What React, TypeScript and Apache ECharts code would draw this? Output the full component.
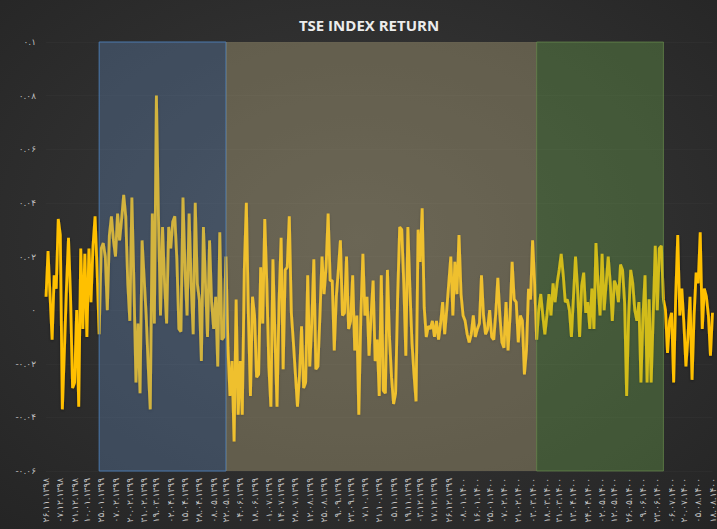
import React, { useEffect, useRef } from "react";
import * as echarts from "echarts";

// Daily returns of the TSE index (left to right)
const returnsPart1 = [
  0.005, 0.022, 0.005, -0.011, 0.013, 0.008, 0.034, 0.028, -0.037, -0.015,
  0.008, 0.027, 0.005, -0.029, -0.027, 0.0, -0.036, 0.023, -0.007, 0.021,
  -0.01, 0.023, 0.003, 0.024, 0.035, 0.015, -0.009, 0.023, 0.025, 0.02,
  0.0, 0.028, 0.035, 0.026, 0.02, 0.036, 0.026, 0.034, 0.043, 0.035,
  0.01, -0.004, 0.042, 0.01, -0.027, -0.005, -0.031, 0.026, 0.012, -0.002,
  -0.021, -0.037, 0.036, -0.005, 0.08, 0.035, -0.002, 0.031, 0.01, -0.005,
  0.031, 0.023, 0.033, 0.035, 0.019, -0.007, -0.008, 0.042, 0.015, -0.002,
  0.036, 0.01, -0.009, 0.04, 0.01, 0.004, -0.019, 0.031, 0.01, -0.01,
];
const returnsPart2 = [
  0.026, 0.003, -0.007, 0.005, -0.021, 0.029, -0.011, -0.01, 0.02, -0.014,
  -0.032, -0.019, -0.049, 0.004, -0.039, -0.019, -0.039, 0.015, 0.04, -0.002,
  -0.032, 0.005, -0.002, -0.025, -0.024, 0.016, -0.005, 0.034, 0.01, -0.021,
  -0.036, 0.019, -0.01, -0.036, 0.003, 0.027, -0.022, 0.015, 0.016, 0.035,
  -0.001, -0.012, -0.024, -0.036, -0.024, -0.006, -0.029, -0.027, 0.013, -0.021,
  -0.005, 0.019, -0.022, -0.021, -0.002, 0.02, 0.006, 0.016, 0.036, 0.011,
  0.011, -0.015, 0.005, 0.015, 0.026, -0.002, -0.001, 0.02, -0.007, -0.004,
  0.013, -0.015, -0.002, -0.039, -0.002, 0.021, -0.002, 0.005, -0.017, -0.002,
];
const returnsPart3 = [
  0.011, -0.019, -0.011, -0.032, 0.013, -0.03, -0.031, 0.015, -0.01, -0.025,
  -0.035, -0.031, 0.005, 0.031, 0.03, 0.01, -0.017, 0.031, 0.008, -0.012,
  -0.024, -0.034, 0.03, 0.018, 0.038, 0.001, -0.01, -0.006, -0.007, -0.004,
  -0.01, -0.004, -0.011, -0.005, 0.003, -0.009, 0.0, 0.01, 0.02, -0.002,
  0.018, 0.006, 0.028, 0.006, -0.002, -0.004, -0.009, -0.012, -0.009, -0.002,
  -0.01, -0.007, -0.005, 0.013, -0.002, -0.009, -0.007, 0.0, -0.01, -0.011,
  -0.001, 0.012, -0.002, -0.012, -0.014, 0.003, -0.015, -0.002, 0.018, 0.004,
  0.003, -0.012, -0.002, -0.004, -0.024, -0.015, 0.008, 0.004, 0.026, 0.01,
  -0.011, 0.0,
];
const returnsPart4 = [
  0.006, -0.002, -0.009, -0.002, 0.006, -0.002, 0.01, 0.003, 0.01, 0.015,
  0.021, 0.013, 0.003, 0.004, 0.0, -0.01, 0.005, 0.02, 0.008, -0.01,
  0.009, 0.014, -0.001, 0.003, -0.007, 0.008, -0.007, 0.025, 0.01, -0.002,
  0.021, 0.0, 0.01, 0.02, 0.01, -0.004, 0.011, 0.009, 0.003, 0.017,
  0.015, 0.003, -0.032, -0.002, 0.015, 0.01, 0.0, -0.004, 0.003, -0.027,
  -0.002, 0.013, -0.027, 0.004, -0.027, -0.002, 0.024, 0.0, 0.023, 0.024,
  0.004, 0.0, -0.016, -0.004, -0.001, -0.027, 0.005, 0.028, -0.002, 0.008,
  -0.005, -0.021, -0.01, 0.005, -0.026, -0.002, 0.014, 0.01, 0.029, -0.007,
  0.008, 0.005, -0.002, -0.017, -0.001,
];
const returns = [...returnsPart1, ...returnsPart2, ...returnsPart3, ...returnsPart4];
const categories = returns.map((_, i) => String(i));

// Date tick labels (Persian calendar) shown along the x axis
const tickLabels = [
  "۲۶.۱۱.۱۳۹۸", "۰۷.۱۲.۱۳۹۸", "۲۱.۱۲.۱۳۹۸", "۱۰.۰۱.۱۳۹۹", "۲۵.۰۱.۱۳۹۹",
  "۰۷.۰۲.۱۳۹۹", "۲۰.۰۲.۱۳۹۹", "۳۱.۰۲.۱۳۹۹", "۱۹.۰۳.۱۳۹۹", "۰۲.۰۴.۱۳۹۹",
  "۱۵.۰۴.۱۳۹۹", "۲۸.۰۴.۱۳۹۹", "۰۸.۰۵.۱۳۹۹", "۲۲.۰۵.۱۳۹۹", "۰۴.۰۶.۱۳۹۹",
  "۱۸.۰۶.۱۳۹۹", "۰۱.۰۷.۱۳۹۹", "۱۴.۰۷.۱۳۹۹", "۲۸.۰۷.۱۳۹۹", "۱۲.۰۸.۱۳۹۹",
  "۲۵.۰۸.۱۳۹۹", "۰۹.۰۹.۱۳۹۹", "۲۳.۰۹.۱۳۹۹", "۰۷.۱۰.۱۳۹۹", "۲۱.۱۰.۱۳۹۹",
  "۰۵.۱۱.۱۳۹۹", "۱۹.۱۱.۱۳۹۹", "۰۳.۱۲.۱۳۹۹", "۱۷.۱۲.۱۳۹۹", "۲۶.۱۲.۱۳۹۹",
  "۰۸.۰۱.۱۴۰۰", "۱۶.۰۱.۱۴۰۰", "۲۵.۰۱.۱۴۰۰", "۰۷.۰۲.۱۴۰۰", "۲۱.۰۲.۱۴۰۰",
  "۰۳.۰۳.۱۴۰۰", "۱۸.۰۳.۱۴۰۰", "۳۱.۰۳.۱۴۰۰", "۱۳.۰۴.۱۴۰۰", "۲۴.۰۴.۱۴۰۰",
  "۰۲.۰۵.۱۴۰۰", "۱۲.۰۵.۱۴۰۰", "۲۶.۰۵.۱۴۰۰", "۰۹.۰۶.۱۴۰۰", "۲۳.۰۶.۱۴۰۰",
  "۰۶.۰۷.۱۴۰۰", "۲۰.۰۷.۱۴۰۰", "۰۵.۰۸.۱۴۰۰", "۱۸.۰۸.۱۴۰۰",
];

// Shaded periods, as category index ranges
const periodRanges = [
  [26, 88],
  [88, 240],
  [240, 302],
];
const periodStyles = [
  { color: "rgba(105,150,205,0.30)", borderColor: "#4a78ad", borderWidth: 1 },
  { color: "rgba(205,190,140,0.33)", borderWidth: 0 },
  { color: "rgba(115,180,80,0.32)", borderColor: "rgba(110,150,80,0.6)", borderWidth: 1 },
];

const title = "TSE INDEX RETURN";

const FA = "۰۱۲۳۴۵۶۷۸۹";
const toFa = (s: string) => s.replace(/[0-9]/g, (d) => FA[+d]);

export default function App() {
  const ref = useRef<HTMLDivElement>(null);
  useEffect(() => {
    if (!ref.current) return;
    const chart = echarts.init(ref.current, undefined, { renderer: "svg" });
    const n = returns.length;
    const labelMap = new Map<number, number>();
    tickLabels.forEach((_, j) => {
      labelMap.set(Math.round((j * (n - 1)) / (tickLabels.length - 1)), j);
    });
    chart.setOption({
      animation: false,
      backgroundColor: {
        type: "radial",
        x: 0.5,
        y: 0.45,
        r: 0.8,
        colorStops: [
          { offset: 0, color: "#3b3b3b" },
          { offset: 1, color: "#232323" },
        ],
      },
      grid: { left: 46, right: 1, top: 42, bottom: 58, containLabel: false },
      graphic: [
        {
          type: "text",
          x: 369,
          y: 25,
          style: {
            text: title,
            fill: "#ececec",
            font: 'bold 15px "Open Sans"',
            fontFamily: "Open Sans",
            fontWeight: "bold",
            fontSize: 15,
            align: "center",
            verticalAlign: "middle",
            textAlign: "center",
            textVerticalAlign: "middle",
          },
        },
      ],
      xAxis: {
        type: "category",
        data: categories,
        boundaryGap: false,
        axisLine: { show: false },
        axisTick: { show: false },
        splitLine: { show: false },
        axisLabel: {
          rotate: 90,
          interval: (i: number) => labelMap.has(i),
          formatter: (_v: string, i: number) => tickLabels[labelMap.get(i) ?? 0],
          color: "#c4c4c4",
          fontSize: 9,
          fontFamily: "DejaVu Sans",
          margin: 7,
        },
      },
      yAxis: {
        type: "value",
        min: -0.06,
        max: 0.1,
        interval: 0.02,
        axisLine: { show: false },
        axisTick: { show: false },
        splitLine: { lineStyle: { color: "rgba(255,255,255,0.025)", width: 1 } },
        axisLabel: {
          formatter: (v: number) => toFa(String(Math.round(v * 100) / 100)),
          color: "#bdbdbd",
          fontSize: 9,
          fontFamily: "DejaVu Sans",
          margin: 10,
        },
      },
      series: [
        {
          type: "line",
          data: returns,
          symbol: "none",
          z: 2,
          lineStyle: {
            color: "#FFC000",
            width: 2.8,
            shadowColor: "rgba(0,0,0,0.45)",
            shadowBlur: 3,
            shadowOffsetY: 1,
          },
        },
        {
          type: "line",
          data: returns,
          symbol: "none",
          silent: true,
          z: 10,
          lineStyle: { opacity: 0, width: 0 },
          markArea: {
            silent: true,
            z: 10,
            data: periodRanges.map(([a, b], k) => [
              { xAxis: String(a), itemStyle: periodStyles[k] },
              { xAxis: String(b) },
            ]),
          },
        },
      ],
    });
    return () => chart.dispose();
  }, []);
  return (
    <div
      ref={ref}
      style={{ position: "absolute", left: 0, top: 0, width: 717, height: 529 }}
    />
  );
}
